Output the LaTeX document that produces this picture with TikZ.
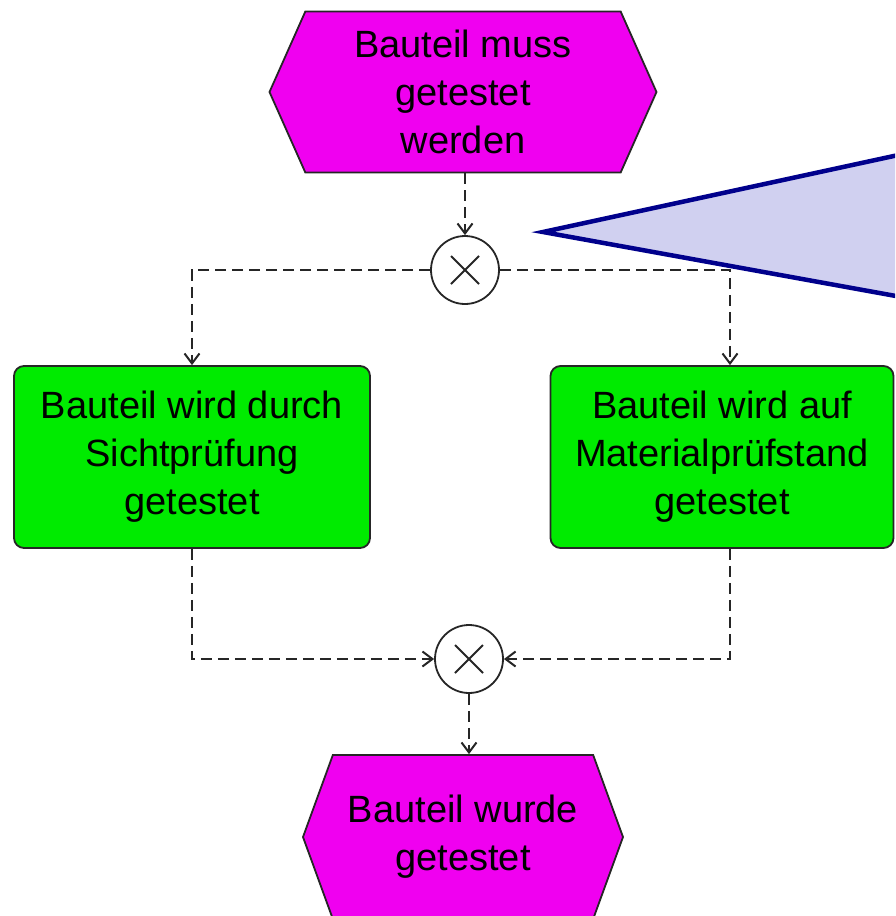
\documentclass[tikz,border=0pt]{standalone}
\usepackage{fontspec}
\setmainfont{Liberation Sans}
\usetikzlibrary{shapes.symbols,arrows.meta}
\definecolor{evmag}{RGB}{240,0,240}
\definecolor{fngreen}{RGB}{0,235,0}
\definecolor{notefill}{RGB}{208,208,240}
\definecolor{noteline}{RGB}{0,0,140}
\begin{document}
\begin{tikzpicture}[x=1pt,y=-1pt,
    font=\fontsize{38}{48}\selectfont,
    event/.style={shape=signal, signal to=east and west, draw=black!85, line width=1.8pt,
        fill=evmag, align=center, inner sep=0pt},
    func/.style={rectangle, rounded corners=10pt, draw=black!85, line width=1.8pt,
        fill=fngreen, align=center, inner sep=0pt, minimum height=182pt},
    xor/.style={circle, draw=black!85, line width=1.8pt, fill=white, minimum size=68pt, inner sep=0pt,
        path picture={\draw[line width=1.8pt]
            ([shift={(-14pt,-14pt)}]path picture bounding box.center) -- ++(28pt,28pt)
            ([shift={(-14pt,14pt)}]path picture bounding box.center) -- ++(28pt,-28pt);}},
    flow/.style={draw=black!85, line width=2pt, dash pattern=on 11pt off 6pt,
        -{Straight Barb[length=10pt,width=15pt]}}]
    \useasboundingbox (0,0) rectangle (895,916);
    \clip (0,0) rectangle (895,916);

    % events
    \node[event, minimum width=387pt, minimum height=161pt, signal pointer angle=132] (ev1) at (463,92) {Bauteil muss\\getestet\\werden};
    \node[event, minimum width=320pt, minimum height=164pt, signal pointer angle=140] (ev2) at (463,837) {Bauteil wurde\\getestet};

    % functions
    \node[func, minimum width=356pt] (fn1) at (192,457) {Bauteil wird durch\\Sichtprüfung\\getestet};
    \node[func, minimum width=343pt] (fn2) at (722,457) {Bauteil wird auf\\Materialprüfstand\\getestet};

    % connectors
    \node[xor] (xor1) at (465,270) {};
    \node[xor] (xor2) at (469,659) {};

    \draw[flow] (ev1.south -| xor1.north) -- (xor1.north);
    \draw[flow] (xor1.west) -| (fn1.north);
    \draw[flow] (xor1.east) -| ([xshift=8pt]fn2.north);
    \draw[flow] (fn1.south) |- (xor2.west);
    \draw[flow] ([xshift=8pt]fn2.south) |- (xor2.east);
    \draw[flow] (xor2.south) -- (xor2.south |- ev2.north);

    % note
    \coordinate (tip) at (543,232);
    \filldraw[fill=notefill, draw=noteline, line width=4.5pt, line join=miter]
        (tip) -- (940,146) -- (940,304) -- cycle;
\end{tikzpicture}
\end{document}
